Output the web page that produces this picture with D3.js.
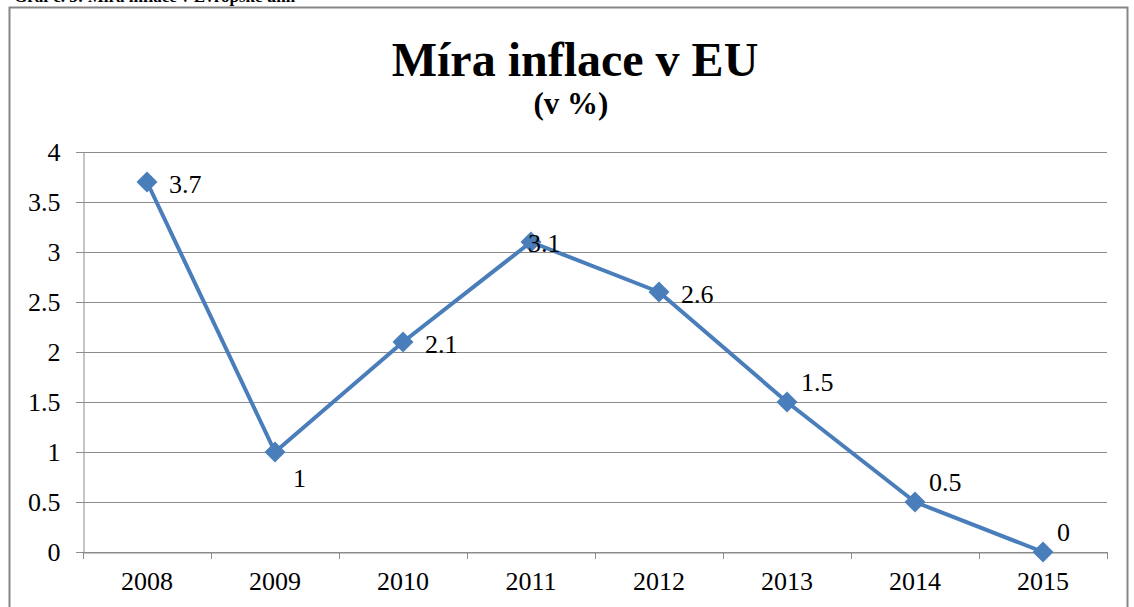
<!DOCTYPE html>
<html>
<head>
<meta charset="utf-8">
<script src="https://cdn.jsdelivr.net/npm/d3@7"></script>
<style>
  body { margin: 0; background: #fff; }
  svg { display: block; font-family: "Liberation Serif", "Times New Roman", serif; }
</style>
</head>
<body>
<div id="chart"></div>
<script>
const years = ['2008', '2009', '2010', '2011', '2012', '2013', '2014', '2015'];
const inflation = [3.7, 1, 2.1, 3.1, 2.6, 1.5, 0.5, 0];
const yTicks = [0, 0.5, 1, 1.5, 2, 2.5, 3, 3.5, 4];
// where each data label sits relative to its point
const labelSide = ['right', 'below', 'right', 'onPoint', 'right', 'above', 'above', 'above'];

const width = 1134;
const height = 607;
const margin = { top: 152, right: 27, bottom: 55, left: 83 };

const svg = d3.select('#chart')
  .append('svg')
  .attr('width', width)
  .attr('height', height);

// caption cut off at top of the page
svg.append('text')
  .attr('x', 14)
  .attr('y', 2)
  .attr('font-size', '17px')
  .attr('font-weight', 'bold')
  .text('Graf č. 3: Míra inflace v Evropské unii');

// chart frame
svg.append('rect')
  .attr('x', 9.5)
  .attr('y', 7.5)
  .attr('width', 1118)
  .attr('height', 620)
  .attr('fill', 'none')
  .attr('stroke', '#868686')
  .attr('stroke-width', 2);

svg.append('text')
  .attr('x', 575)
  .attr('y', 76)
  .attr('text-anchor', 'middle')
  .attr('font-size', '48px')
  .attr('font-weight', 'bold')
  .text('Míra inflace v EU');

svg.append('text')
  .attr('x', 571)
  .attr('y', 114)
  .attr('text-anchor', 'middle')
  .attr('font-size', '31px')
  .attr('font-weight', 'bold')
  .text('(v %)');

const x = d3.scaleBand()
  .domain(years)
  .range([margin.left, width - margin.right]);

const y = d3.scaleLinear()
  .domain([0, 4])
  .range([height - margin.bottom, margin.top]);

// gridlines
svg.append('g')
  .selectAll('line')
  .data(yTicks)
  .enter()
  .append('line')
  .attr('x1', margin.left - 7)
  .attr('x2', width - margin.right)
  .attr('y1', d => Math.round(y(d)) + 0.5)
  .attr('y2', d => Math.round(y(d)) + 0.5)
  .attr('stroke', '#8c8c8c');

// y axis
const yAxis = svg.append('g')
  .attr('transform', `translate(${margin.left + 0.5},0)`)
  .call(d3.axisLeft(y).tickValues(yTicks).tickFormat(d3.format('')).tickSize(7).tickPadding(16));
yAxis.selectAll('text').attr('font-size', '26px').attr('fill', '#000').attr('font-family', 'Liberation Serif').attr('dy', '0.34em');
yAxis.selectAll('line, path').attr('stroke', '#8c8c8c');

// x axis
const xAxis = svg.append('g')
  .attr('transform', `translate(0,${Math.round(y(0)) + 0.5})`)
  .call(d3.axisBottom(x).tickSize(0).tickPadding(19));
xAxis.select('path').attr('stroke', '#8c8c8c');
xAxis.selectAll('text').attr('font-size', '26px').attr('fill', '#000').attr('font-family', 'Liberation Serif');

// category boundary ticks
svg.append('g')
  .selectAll('line')
  .data(years.concat(['end']))
  .enter()
  .append('line')
  .attr('x1', (d, i) => Math.round(margin.left + i * x.step()) + 0.5)
  .attr('x2', (d, i) => Math.round(margin.left + i * x.step()) + 0.5)
  .attr('y1', y(0))
  .attr('y2', y(0) + 7)
  .attr('stroke', '#8c8c8c');

const cx = (d, i) => x(years[i]) + x.bandwidth() / 2;

svg.append('path')
  .datum(inflation)
  .attr('fill', 'none')
  .attr('stroke', '#4a7ebb')
  .attr('stroke-width', 4)
  .attr('stroke-linejoin', 'round')
  .attr('d', d3.line().x(cx).y(d => y(d)));

svg.append('g')
  .selectAll('path')
  .data(inflation)
  .enter()
  .append('path')
  .attr('transform', (d, i) => `translate(${cx(d, i)},${y(d)})`)
  .attr('d', d3.symbol().type(d3.symbolDiamond2).size(280))
  .attr('fill', '#4a7ebb');

const offsets = {
  right: [22, 11],
  below: [18, 35],
  onPoint: [-3, 10],
  above: [14, -11]
};

svg.append('g')
  .selectAll('text')
  .data(inflation)
  .enter()
  .append('text')
  .attr('x', (d, i) => cx(d, i) + offsets[labelSide[i]][0])
  .attr('y', (d, i) => y(d) + offsets[labelSide[i]][1])
  .attr('font-size', '26px')
  .text(d => d);
</script>
</body>
</html>
